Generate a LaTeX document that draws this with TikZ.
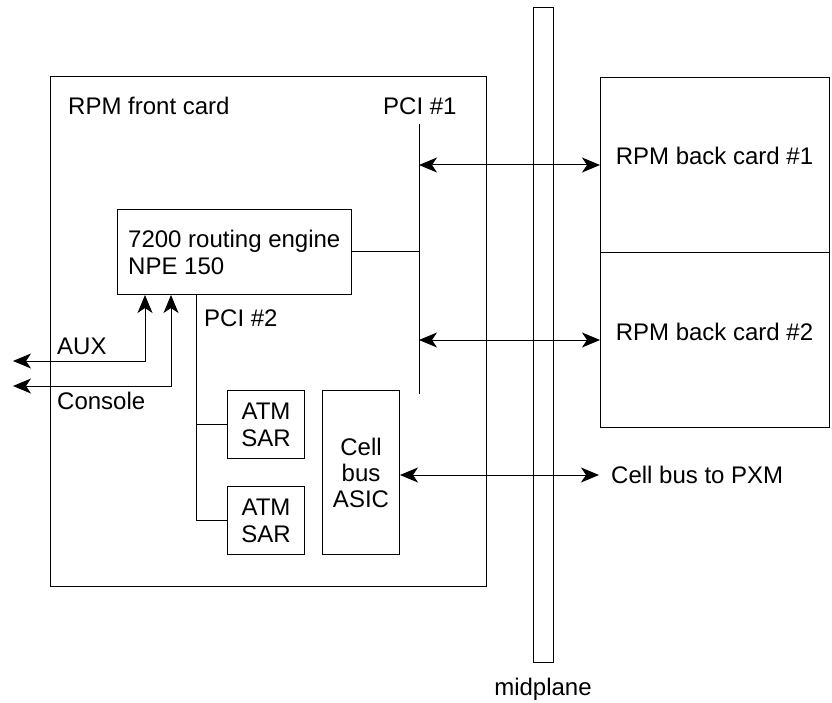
\documentclass[tikz,border=0pt]{standalone}
\usepackage{fontspec}
\setmainfont{Liberation Sans}
\usetikzlibrary{arrows.meta}
\begin{document}
\begin{tikzpicture}[x=1pt,y=-1pt,
  box/.style={draw,line width=1pt,inner sep=0pt,anchor=north west},
  lbl/.style={font=\fontsize{24}{27}\selectfont,inner sep=0pt},
  link/.style={line width=1pt},
  dbl/.style={line width=1pt,
    {Stealth[length=18pt,width=15pt,inset=5pt]}-{Stealth[length=18pt,width=15pt,inset=5pt]}}]
\useasboundingbox (0,0) rectangle (832,703);

% front card and its parts
\node[box,minimum width=436pt,minimum height=510pt] (front) at (50,76) {};
\node[lbl,anchor=base west] (fronttxt) at (68,115) {RPM front card};
\node[box,minimum width=234pt,minimum height=85pt] (engine) at (117,209) {};
\node[lbl,align=left,anchor=west] (enginetxt) at ([xshift=11pt]engine.west)
      {7200 routing engine\\NPE 150};
\node[box,lbl,minimum width=77pt,minimum height=68pt,align=center] (sar1) at (227,390) {ATM\\SAR};
\node[box,lbl,minimum width=77pt,minimum height=68pt,align=center] (sar2) at (227,486) {ATM\\SAR};
\node[box,font=\fontsize{24}{26}\selectfont,minimum width=77pt,minimum height=164pt,align=center] (cell) at (322,390) {Cell\\bus\\ASIC};

% midplane
\node[box,minimum width=20pt,minimum height=655pt] (mid) at (533,7) {};
\node[lbl,anchor=base] (midtxt) at (543,695) {midplane};

% back cards
\node[box,minimum width=229pt,minimum height=175pt] (back1) at (600,77) {};
\node[box,minimum width=229pt,minimum height=175pt] (back2) at (600,252) {};
\node[lbl,anchor=base] (back1txt) at (714.5,165) {RPM back card \#1};
\node[lbl,anchor=base] (back2txt) at (714.5,340) {RPM back card \#2};

% labels
\node[lbl,anchor=base west] (pci1txt) at (383,115) {PCI \#1};
\node[lbl,anchor=base west] (pci2txt) at (204,326) {PCI \#2};
\node[lbl,anchor=base west] (auxtxt) at (57,354) {AUX};
\node[lbl,anchor=base west] (contxt) at (57,409) {Console};
\node[lbl,anchor=base west] (pxmtxt) at (611,483) {Cell bus to PXM};

% PCI #1 bus
\coordinate (pcitop) at (419,124);
\coordinate (pcibot) at (419,394);
\draw[link] (pcitop) -- (pcibot);
\draw[link] (engine.east) -- (engine.east -| pcitop);
\draw[dbl] (back1.west -| pcitop) -- (back1.west);
\draw[dbl] (back2.west -| pcitop) -- (back2.west);

% cell bus
\coordinate (pxm) at (599,475);
\draw[dbl] (cell.east |- pxm) -- (pxm);

% PCI #2 bus
\coordinate (p2) at (196,520);
\draw[link] (engine.south -| p2) -- (p2);
\draw[link] (sar1.west) -- (sar1.west -| p2);
\draw[link] (sar2.west) -- (sar2.west -| p2);

% AUX and console ports
\coordinate (auxend) at (13,361);
\coordinate (auxbend) at (145,361);
\coordinate (conend) at (13,386);
\coordinate (conbend) at (171,386);
\draw[dbl] (auxend) -- (auxbend) -- (auxbend |- engine.south);
\draw[dbl] (conend) -- (conbend) -- (conbend |- engine.south);
\end{tikzpicture}
\end{document}
